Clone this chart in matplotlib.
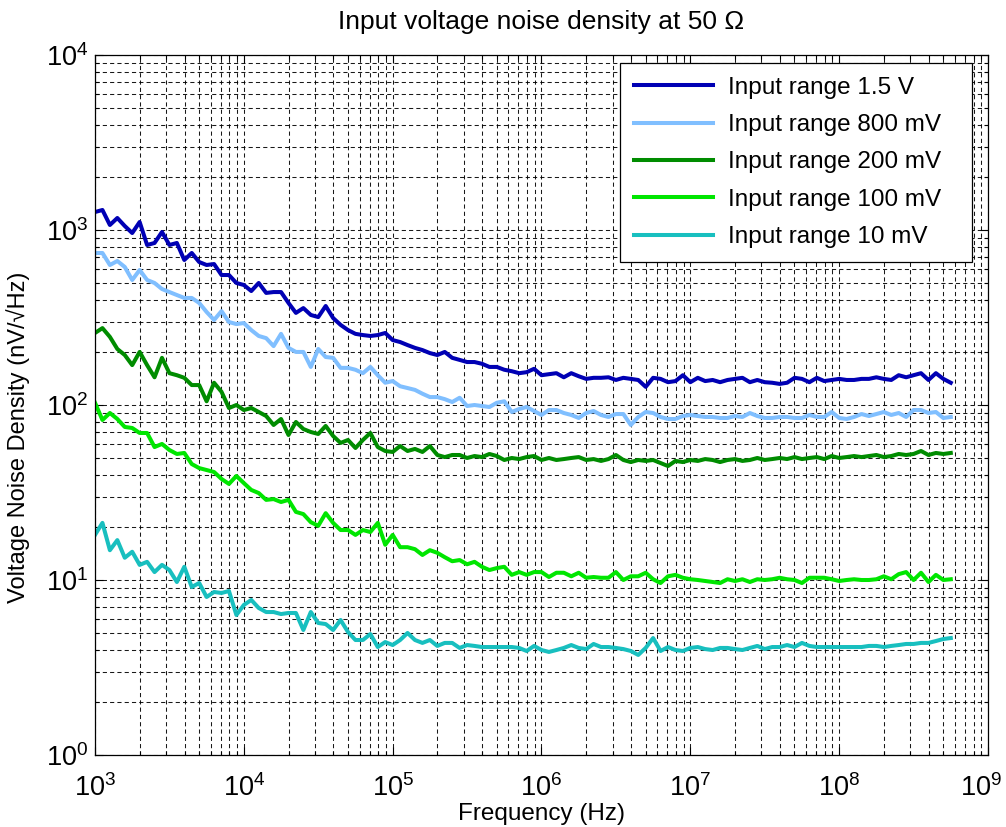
import numpy as np
import matplotlib
matplotlib.use("Agg")
import matplotlib.pyplot as plt
from matplotlib.ticker import LogLocator, NullFormatter
from matplotlib.transforms import ScaledTranslation

plt.rcParams['font.family'] = ['Liberation Sans', 'DejaVu Sans']
plt.rcParams['mathtext.fontset'] = 'custom'
plt.rcParams['mathtext.rm'] = 'Liberation Sans'
plt.rcParams['mathtext.it'] = 'Liberation Sans'

# Frequency grid (Hz): 20 points per decade from 1 kHz to ~560 MHz
freq = np.geomspace(1e3, 10 ** 8.75, 116)

labels = ["Input range 1.5 V", "Input range 800 mV", "Input range 200 mV",
          "Input range 100 mV", "Input range 10 mV"]
colors = ["#0000b4", "#80bfff", "#008c00", "#00e600", "#18bfbf"]

range_1v5 = [1267, 1301, 1068, 1171, 1054, 961, 1111, 821, 843, 974,
             821, 843, 674, 739, 656, 631, 639, 553, 553, 498,
             485, 448, 498, 437, 442, 442, 383, 336, 358, 327,
             318, 368, 314, 287, 268, 255, 251, 248, 251, 258,
             235, 229, 220, 212, 206, 198, 193, 201, 186, 181,
             176, 176, 172, 165, 165, 159, 156, 152, 154, 161,
             148, 150, 152, 144, 152, 146, 141, 143, 143, 144,
             139, 143, 141, 139, 127, 143, 141, 135, 137, 148,
             135, 143, 137, 139, 135, 139, 141, 143, 135, 139,
             135, 134, 132, 134, 143, 141, 135, 143, 137, 139,
             141, 139, 139, 141, 141, 144, 141, 139, 148, 144,
             148, 152, 139, 152, 141, 134]

range_800m = [739, 739, 631, 665, 615, 518, 591, 518, 498, 460,
              442, 425, 409, 409, 383, 340, 306, 344, 298, 290,
              294, 268, 248, 241, 217, 255, 212, 201, 201, 165,
              209, 188, 186, 163, 163, 159, 152, 165, 148, 134,
              137, 128, 125, 122, 116, 111, 111, 108, 104, 110,
              98.7, 100, 98.7, 97.4, 103, 105, 91.2, 94.9, 97.4, 92.4,
              87.7, 93.6, 93.6, 90.0, 87.7, 84.3, 90.0, 92.4, 87.7, 85.4,
              88.8, 88.8, 76.9, 85.4, 91.2, 90.0, 85.4, 83.2, 83.2, 86.5,
              87.7, 86.5, 85.4, 85.4, 84.3, 84.3, 86.5, 85.4, 90.0, 86.5,
              84.3, 84.3, 85.4, 85.4, 84.3, 84.3, 87.7, 85.4, 85.4, 91.2,
              84.3, 83.2, 85.4, 88.8, 86.5, 88.8, 91.2, 87.7, 90.0, 85.4,
              93.6, 93.6, 90.0, 91.2, 84.3, 85.4]

range_200m = [258, 275, 245, 209, 193, 169, 201, 169, 144, 186,
              152, 148, 143, 130, 130, 105, 134, 119, 96.1, 100,
              93.6, 96.1, 91.2, 86.5, 76.9, 83.2, 67.4, 80.0, 72.9, 70.1,
              68.3, 75.9, 66.5, 60.7, 63.1, 56.8, 63.1, 69.2, 57.5, 54.6,
              53.9, 58.3, 54.6, 56.1, 53.9, 58.3, 51.8, 50.4, 51.8, 51.8,
              49.8, 51.1, 50.4, 52.5, 51.1, 48.5, 49.8, 49.1, 50.4, 51.1,
              48.5, 49.8, 48.5, 49.1, 49.8, 50.4, 48.5, 49.1, 47.9, 49.1,
              51.8, 48.5, 47.2, 48.5, 47.9, 48.5, 46.6, 44.8, 47.9, 47.2,
              48.5, 47.9, 49.1, 48.5, 47.2, 48.5, 49.1, 47.9, 48.5, 49.8,
              48.5, 49.1, 49.8, 49.1, 50.4, 49.1, 49.8, 50.4, 49.1, 51.1,
              49.8, 50.4, 51.1, 50.4, 51.1, 51.8, 50.4, 51.1, 52.5, 51.8,
              52.5, 54.6, 51.8, 53.2, 52.5, 53.2]

range_100m = [103, 82.1, 90.0, 83.2, 74.9, 73.9, 69.2, 69.2, 57.5, 59.9,
              55.3, 52.5, 53.2, 46.0, 43.6, 42.5, 41.4, 37.8, 35.4, 39.3,
              35.8, 32.7, 31.4, 28.7, 29.0, 27.9, 28.7, 24.5, 23.8, 21.4,
              20.4, 24.1, 21.2, 19.3, 19.3, 18.1, 19.3, 18.8, 21.2, 15.9,
              18.1, 15.4, 15.4, 15.0, 13.9, 14.8, 14.3, 13.5, 12.8, 13.0,
              12.3, 12.7, 11.9, 11.4, 11.7, 11.9, 10.7, 11.1, 10.7, 11.1,
              11.1, 10.4, 11.0, 11.0, 10.5, 11.0, 10.3, 10.4, 10.3, 10.3,
              11.1, 10.0, 10.5, 10.5, 11.0, 10.1, 9.61, 10.5, 10.7, 10.3,
              10.1, 10.0, 9.87, 9.74, 9.61, 10.1, 9.87, 10.1, 9.74, 10.1,
              10.0, 10.1, 10.3, 10.1, 10.0, 9.61, 10.3, 10.3, 10.3, 10.1,
              9.87, 10.0, 10.1, 10.0, 10.0, 10.1, 10.5, 10.1, 10.8, 11.1,
              10.0, 11.0, 9.74, 10.7, 10.0, 10.1]

range_10m = [18.1, 21.2, 14.8, 16.9, 13.4, 14.5, 12.2, 12.7, 11.1, 12.2,
             11.4, 9.74, 11.9, 9.12, 9.61, 8.00, 8.54, 8.43, 8.65, 6.31,
             7.20, 7.69, 6.92, 6.56, 6.56, 6.39, 6.48, 6.48, 5.18, 6.56,
             5.68, 5.60, 5.18, 5.91, 5.04, 4.54, 4.54, 4.91, 4.14, 4.42,
             4.25, 4.54, 4.98, 4.54, 4.37, 4.54, 4.20, 4.37, 4.37, 4.09,
             4.25, 4.20, 4.14, 4.14, 4.14, 4.14, 4.14, 4.09, 3.93, 4.20,
             3.98, 3.88, 3.98, 4.09, 4.25, 4.09, 4.03, 4.31, 4.14, 4.14,
             4.09, 4.03, 3.93, 3.73, 4.09, 4.66, 3.93, 4.14, 3.98, 3.93,
             4.09, 4.14, 4.03, 3.98, 4.09, 4.09, 4.03, 3.98, 4.09, 4.20,
             4.03, 4.14, 4.14, 4.25, 4.14, 4.37, 4.20, 4.14, 4.14, 4.14,
             4.14, 4.14, 4.14, 4.14, 4.20, 4.20, 4.14, 4.20, 4.25, 4.31,
             4.31, 4.37, 4.37, 4.48, 4.60, 4.66]

series = [range_1v5, range_800m, range_200m, range_100m, range_10m]

fig = plt.figure(figsize=(10.06, 8.27), dpi=100)
ax = fig.add_axes([95 / 1006, 72 / 827, 893 / 1006, 700 / 827])

for vals, lab, col in zip(series, labels, colors):
    ax.plot(freq, vals, color=col, lw=2.9, label=lab)

ax.set_xscale('log')
ax.set_yscale('log')
ax.set_xlim(1e3, 1e9)
ax.set_ylim(1, 1e4)

ax.set_xticks([1e3, 1e4, 1e5, 1e6, 1e7, 1e8, 1e9])
ax.set_yticks([1e0, 1e1, 1e2, 1e3, 1e4])
ax.xaxis.set_minor_locator(LogLocator(base=10, subs=np.arange(2, 10), numticks=100))
ax.yaxis.set_minor_locator(LogLocator(base=10, subs=np.arange(2, 10), numticks=100))
ax.xaxis.set_minor_formatter(NullFormatter())
ax.yaxis.set_minor_formatter(NullFormatter())
ax.set_xlim(1e3, 1e9)
ax.set_ylim(1, 1e4)

ax.grid(True, which='both', color='black', linestyle=(0, (4, 3)), linewidth=0.75, alpha=0.9)
ax.set_axisbelow(True)

ax.tick_params(which='both', direction='in', top=True, right=True, width=0.8)
ax.tick_params(which='major', length=6, labelsize=19.5)
ax.tick_params(axis='x', which='major', pad=14)
ax.tick_params(axis='y', which='major', pad=5)
ax.tick_params(which='minor', length=3)
for sp in ax.spines.values():
    sp.set_linewidth(0.9)

ax.set_title("Input voltage noise density at 50 Ω", fontsize=19, pad=19)
ax.set_xlabel("Frequency (Hz)", fontsize=17.5, va='top')
ax.xaxis.set_label_coords(0.5, -0.069)
ax.set_ylabel("Voltage Noise Density (nV/√Hz)", fontsize=17)
ax.yaxis.set_label_coords(-0.073, 0.454)

leg = ax.legend(loc='upper left', bbox_to_anchor=(0.588, 0.989, 0.394, 0.0),
                mode='expand', borderaxespad=0,
                fontsize=17.5, handlelength=3.25, handletextpad=0.6, labelspacing=0.63,
                fancybox=False, framealpha=1, edgecolor='black', borderpad=0.58)
leg.get_frame().set_linewidth(0.9)

fig.canvas.draw()
for tick in ax.xaxis.get_major_ticks():
    if np.isclose(tick.get_loc(), 1e9):
        lbl = tick.label1
        lbl.set_transform(lbl.get_transform() + ScaledTranslation(-7 / 100, 0, fig.dpi_scale_trans))

fig.savefig("out.png", dpi=100)
